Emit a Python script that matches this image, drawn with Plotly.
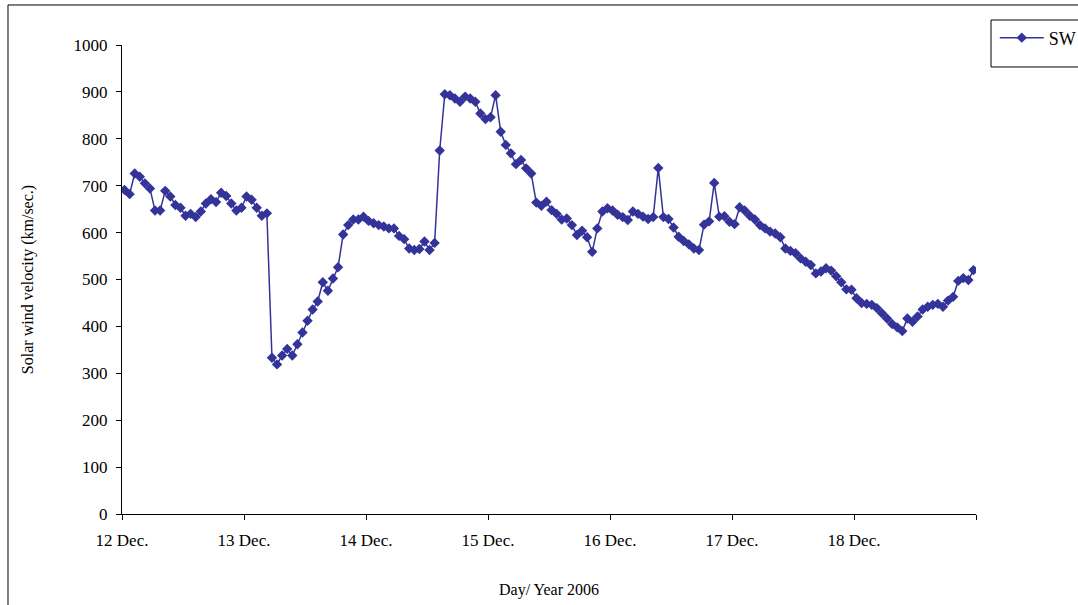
import numpy as np
import plotly.graph_objects as go

# hourly solar wind speed, 12-18 Dec 2006 (km/s)
day_labels = ["12 Dec.", "13 Dec.", "14 Dec.", "15 Dec.", "16 Dec.", "17 Dec.", "18 Dec.", ""]

sw_12 = [691, 682, 726, 719, 705, 694, 647, 647, 689, 677, 659, 653,
         636, 640, 633, 645, 662, 671, 665, 685, 678, 662, 647, 653]
sw_13 = [677, 670, 653, 636, 641, 333, 319, 338, 352, 338, 362, 387,
         412, 436, 453, 494, 476, 502, 526, 596, 616, 628, 628, 634]
sw_14 = [625, 620, 616, 613, 609, 609, 593, 586, 566, 563, 565, 581,
         563, 578, 775, 895, 893, 886, 879, 890, 886, 879, 854, 842]
sw_15 = [846, 893, 815, 787, 769, 746, 755, 737, 726, 664, 657, 666,
         648, 640, 628, 630, 616, 595, 604, 590, 559, 609, 645, 652]
sw_16 = [647, 638, 633, 627, 645, 640, 634, 629, 633, 738, 633, 629,
         611, 591, 582, 575, 566, 563, 617, 624, 706, 634, 635, 623]
sw_17 = [618, 654, 647, 636, 628, 616, 609, 602, 598, 590, 566, 561,
         556, 545, 538, 531, 513, 517, 524, 519, 507, 494, 479, 478]
sw_18 = [460, 450, 448, 446, 439, 428, 417, 405, 398, 390, 417, 410,
         421, 436, 442, 446, 448, 442, 455, 463, 497, 503, 499, 520]

sw = sw_12 + sw_13 + sw_14 + sw_15 + sw_16 + sw_17 + sw_18
hours = np.arange(len(sw))
days = (hours + 0.5) / 24  # each value sits in the middle of its hour slot

navy = "#333399"
font = "Liberation Serif, Times New Roman, serif"

fig = go.Figure()
fig.add_trace(
    go.Scatter(
        x=days,
        y=sw,
        mode="lines+markers",
        name="SW",
        showlegend=True,
        line=dict(color=navy, width=1.5),
        marker=dict(symbol="diamond", size=8, color=navy),
    )
)

axis_common = dict(
    showline=True,
    linecolor="black",
    linewidth=1,
    ticks="outside",
    ticklen=5,
    tickcolor="black",
    showgrid=False,
    zeroline=False,
    automargin=False,
    tickfont=dict(family=font, size=17, color="black"),
)

fig.update_layout(
    width=1078,
    height=605,
    paper_bgcolor="white",
    plot_bgcolor="white",
    margin=dict(l=122, r=102, t=45, b=91, autoexpand=False),
    font=dict(family=font, color="black"),
    showlegend=True,
    xaxis=dict(
        range=[0, 7],
        tickvals=list(range(8)),
        ticktext=day_labels,
        ticklabelstandoff=6,
        title=dict(text="Day/ Year 2006", font=dict(size=16), standoff=34),
        **axis_common,
    ),
    yaxis=dict(
        range=[0, 1000],
        dtick=100,
        ticklabelstandoff=5,
        title=dict(text="Solar wind velocity (km/sec.)", font=dict(size=16), standoff=35),
        **axis_common,
    ),
    legend=dict(
        x=1.022,
        y=1.015,
        xanchor="left",
        yanchor="middle",
        itemwidth=44,
        bgcolor="rgba(0,0,0,0)",
        font=dict(family=font, size=18, color="black"),
    ),
    shapes=[
        # chart area border (cropped in the original)
        dict(type="rect", xref="paper", yref="paper",
             x0=-0.1335, y0=-0.4, x1=1.3, y1=1.0853,
             line=dict(color="black", width=1)),
        # legend box
        dict(type="rect", xref="paper", yref="paper",
             x0=1.0176, y0=0.9531, x1=1.3, y1=1.0533,
             line=dict(color="black", width=1)),
    ],
)

# drop the default 8px page margin so the figure fills the window exactly
fig.write_html(
    "out.html",
    config={"displayModeBar": False},
    post_script="document.body.style.margin='0';document.body.style.overflow='hidden';",
)
